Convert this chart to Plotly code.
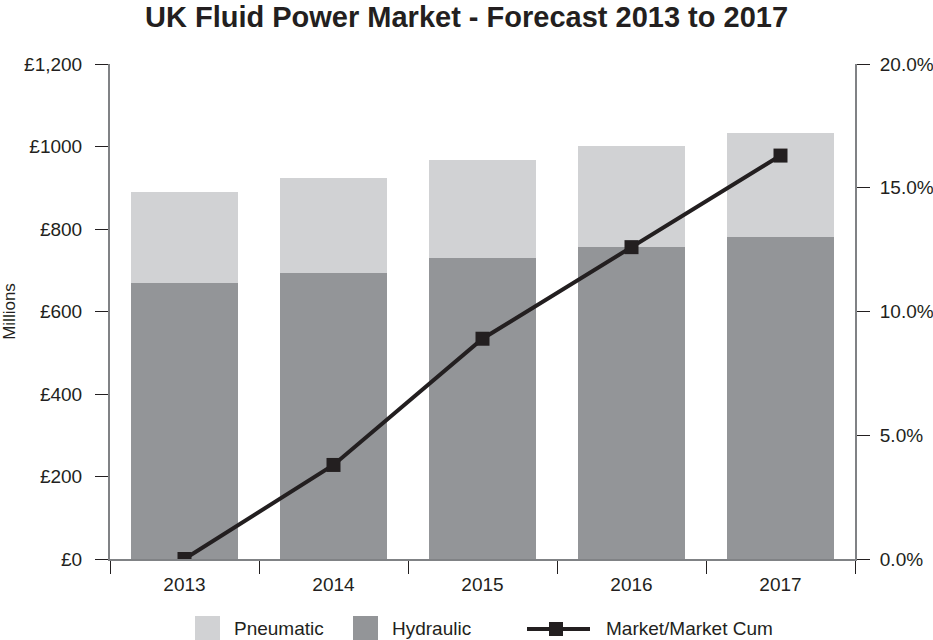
import plotly.graph_objects as go

years = ["2013", "2014", "2015", "2016", "2017"]
hydraulic = [670, 693, 730, 756, 781]
pneumatic = [220, 231, 237, 245, 252]
market_cum = [0.0, 3.8, 8.9, 12.6, 16.3]

left_tickvals = [0, 200, 400, 600, 800, 1000, 1200]
left_ticktext = ["£0", "£200", "£400", "£600", "£800", "£1000", "£1,200"]
right_tickvals = [0, 5, 10, 15, 20]
right_ticktext = ["0.0%", "5.0%", "10.0%", "15.0%", "20.0%"]

dark = "#231f20"
axis_gray = "#808285"
pneu_col = "#d1d2d4"
hyd_col = "#939598"
font_family = "Liberation Sans, Arial, sans-serif"

W, H = 933, 640
L, R, T, B = 110, 78, 64, 81


def px(xp):
    return (xp - L) / (W - L - R)


def py(yp):
    return (H - B - yp) / (H - B - T)


fig = go.Figure()
fig.add_trace(go.Bar(x=years, y=hydraulic, name="Hydraulic", marker_color=hyd_col,
                     marker_line_width=0, yaxis="y"))
fig.add_trace(go.Bar(x=years, y=pneumatic, name="Pneumatic", marker_color=pneu_col,
                     marker_line_width=0, yaxis="y"))
fig.add_trace(go.Scatter(x=years, y=market_cum, name="Market/Market Cum", yaxis="y2",
                         mode="lines+markers", line=dict(color=dark, width=4),
                         marker=dict(symbol="square", size=14, color=dark)))

# custom legend (positions in pixels converted to paper coordinates)
shapes = []
annotations = []
legend_y = 628
for x0, col, label in [(195, pneu_col, "Pneumatic"), (353, hyd_col, "Hydraulic")]:
    shapes.append(dict(type="rect", xref="paper", yref="paper", x0=px(x0), x1=px(x0 + 25),
                       y0=py(616), y1=py(640), fillcolor=col, line=dict(width=0)))
    annotations.append(dict(xref="paper", yref="paper", x=px(x0 + 37), y=py(legend_y),
                            xanchor="left", yanchor="middle", text=label, showarrow=False,
                            font=dict(size=19, color=dark)))
shapes.append(dict(type="line", xref="paper", yref="paper", x0=px(527), x1=px(590),
                   y0=py(629), y1=py(629), line=dict(color=dark, width=4)))
shapes.append(dict(type="rect", xref="paper", yref="paper", x0=px(549), x1=px(563),
                   y0=py(622), y1=py(636), fillcolor=dark, line=dict(width=0)))
annotations.append(dict(xref="paper", yref="paper", x=px(604), y=py(legend_y),
                        xanchor="left", yanchor="middle", text="Market/Market Cum",
                        showarrow=False, font=dict(size=19, color=dark)))

fig.update_layout(
    width=W, height=H,
    margin=dict(l=L, r=R, t=T, b=B),
    paper_bgcolor="white", plot_bgcolor="white",
    barmode="stack", bargap=0.28,
    showlegend=False,
    font=dict(family=font_family, size=19, color=dark),
    title=dict(text="<b>UK Fluid Power Market - Forecast 2013 to 2017</b>",
               x=0.5, xanchor="center", xref="container", yref="container",
               y=1 - 17 / H, yanchor="middle",
               font=dict(size=29, color=dark)),
    xaxis=dict(type="category", range=[-0.5, 4.5], showline=True, linecolor=axis_gray, linewidth=2,
               ticks="outside", tickson="boundaries", ticklen=13, tickcolor=dark, tickwidth=1,
               showgrid=False, zeroline=False, ticklabelstandoff=7, automargin=False,
               tickfont=dict(size=19, color=dark)),
    yaxis=dict(range=[0, 1200], tickvals=left_tickvals, ticktext=left_ticktext,
               showline=True, linecolor=axis_gray, linewidth=2, ticks="outside", ticklen=13,
               tickcolor=dark, showgrid=False, zeroline=False, ticklabelstandoff=9,
               automargin=False,
               title=dict(text="Millions", font=dict(size=17, color=dark), standoff=6),
               tickfont=dict(size=19, color=dark)),
    yaxis2=dict(range=[0, 20], tickvals=right_tickvals, ticktext=right_ticktext,
                overlaying="y", side="right", showline=True, linecolor=axis_gray, linewidth=2,
                ticks="outside", ticklen=13, tickcolor=dark, showgrid=False, zeroline=False,
                ticklabelstandoff=6, automargin=False, tickfont=dict(size=19, color=dark)),
    shapes=shapes,
    annotations=annotations,
)

fig.write_html("out.html")
